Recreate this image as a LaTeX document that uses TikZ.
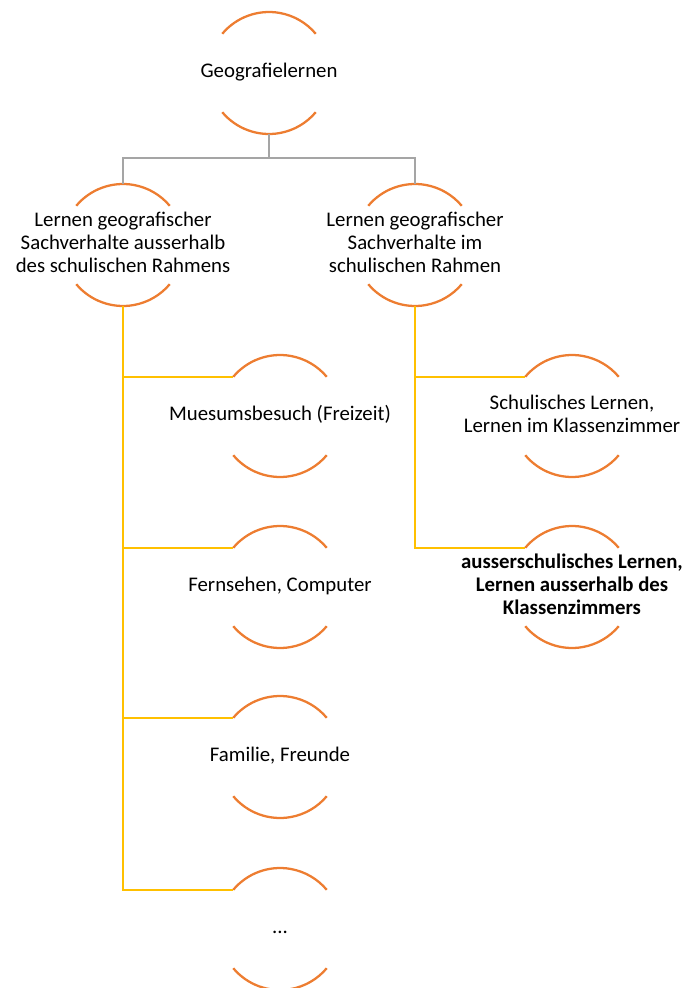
\documentclass[tikz,border=0pt]{standalone}
\usepackage{fontspec}
\setmainfont{Carlito}
\usepackage{tikz}
\definecolor{arcorange}{HTML}{ED7D31}
\definecolor{treegray}{HTML}{A5A5A5}
\definecolor{treeyellow}{HTML}{FFC000}
\newcommand{\lines}[1]{\makebox[0pt]{\begin{tabular}{@{}c@{}}#1\end{tabular}}}
\tikzset{bubble/.style={circle, minimum size=91.5pt, inner sep=0pt, outer sep=0pt,
  font=\fontsize{15.6}{17.4}\selectfont}}
\tikzset{arcline/.style={arcorange, line width=1.7pt}}
\tikzset{grayline/.style={treegray, line width=1.5pt}}
\tikzset{yellowline/.style={treeyellow, line width=1.5pt}}

\begin{document}
\begin{tikzpicture}[x=0.75pt, y=0.75pt]
\useasboundingbox (0,0) rectangle (687,-988);

% top
\node[bubble] (root) at (269,-73) {\lines{Geografielernen}};

% second row
\node[bubble] (out) at (123,-245) {\lines{Lernen geografischer\\Sachverhalte ausserhalb\\des schulischen Rahmens}};
\node[bubble] (in) at (415,-245) {\lines{Lernen geografischer\\Sachverhalte im\\schulischen Rahmen}};

% left column
\node[bubble] (museum) at (280,-416) {\lines{Muesumsbesuch (Freizeit)}};
\node[bubble] (tv) at (280,-587) {\lines{Fernsehen, Computer}};
\node[bubble] (family) at (280,-757) {\lines{Familie, Freunde}};
\node[bubble] (more) at (280,-929) {\lines{...}};

% right column
\node[bubble] (school) at (572,-416) {\lines{Schulisches Lernen,\\Lernen im Klassenzimmer}};
\node[bubble, font=\fontsize{15.6}{17.4}\selectfont\bfseries] (outside) at (572,-587) {\lines{ausserschulisches Lernen,\\Lernen ausserhalb des\\Klassenzimmers}};

\foreach \n in {root,out,in,museum,tv,family,more,school,outside} {
  \draw[arcline] (\n.140) arc[start angle=140, end angle=40, radius=61];
  \draw[arcline] (\n.220) arc[start angle=220, end angle=320, radius=61];
}

\draw[grayline] (root.south) -- ++(0,-24) -| (out.north);
\draw[grayline] (root.south) -- ++(0,-24) -| (in.north);

\foreach \n in {museum,tv,family,more}
  \draw[yellowline] (out.south) |- (\n.140);
\foreach \n in {school,outside}
  \draw[yellowline] (in.south) |- (\n.140);

\end{tikzpicture}
\end{document}
